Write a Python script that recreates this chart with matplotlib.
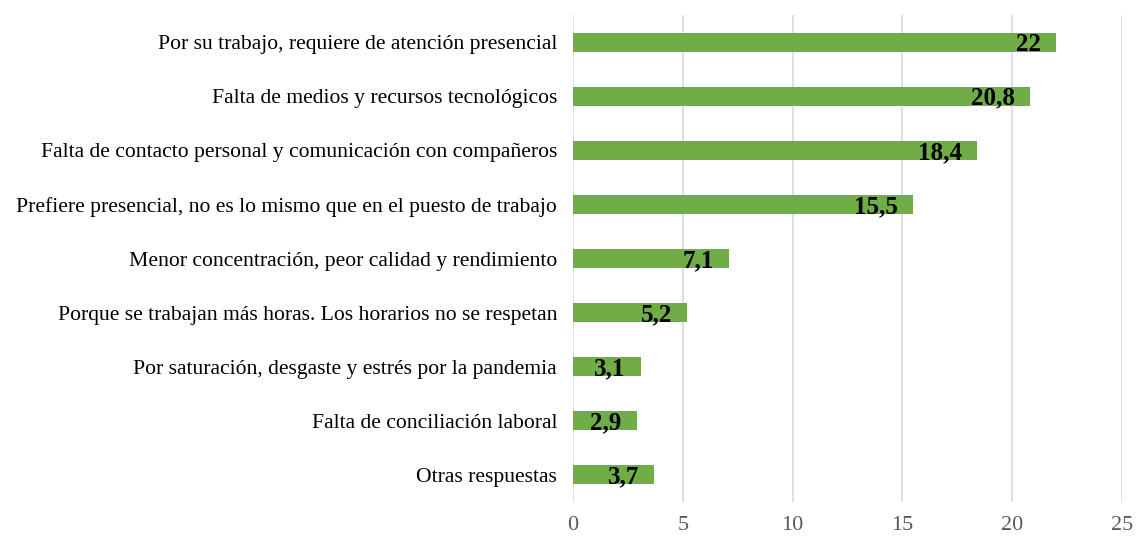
import matplotlib
matplotlib.use("Agg")
import matplotlib.pyplot as plt

plt.rcParams['font.family'] = ['Liberation Serif', 'DejaVu Serif']

categories = [
    "Por su trabajo, requiere de atención presencial",
    "Falta de medios y recursos tecnológicos",
    "Falta de contacto personal y comunicación con compañeros",
    "Prefiere presencial, no es lo mismo que en el puesto de trabajo",
    "Menor concentración, peor calidad y rendimiento",
    "Porque se trabajan más horas. Los horarios no se respetan",
    "Por saturación, desgaste y estrés por la pandemia",
    "Falta de conciliación laboral",
    "Otras respuestas",
]
values = [22, 20.8, 18.4, 15.5, 7.1, 5.2, 3.1, 2.9, 3.7]
value_labels = ["22", "20,8", "18,4", "15,5", "7,1", "5,2", "3,1", "2,9", "3,7"]
xticks = [0, 5, 10, 15, 20, 25]

fig = plt.figure(figsize=(11.36, 5.36), dpi=100)
ax = fig.add_axes([0.5044, 0.0634, 0.4833, 0.9086])

ypos = list(range(len(categories)))
bars = ax.barh(ypos, values, height=0.35, color="#70AD47", zorder=3)

# value labels inside the end of each bar
for b, lab in zip(bars, value_labels):
    ax.annotate(lab, (b.get_width(), b.get_y() + b.get_height() / 2),
                xytext=(-11, -1.5), textcoords="offset points",
                ha="right", va="center", fontsize=18, fontweight="bold",
                color="black", zorder=4)

ax.set_yticks(ypos)
ax.set_yticklabels(categories, fontsize=15.6, color="black")
ax.set_ylim(len(categories) - 0.5, -0.5)
ax.set_xlim(0, 25)
ax.set_xticks(xticks)
ax.set_xticklabels([str(t) for t in xticks], fontsize=16, color="#595959")
ax.tick_params(axis="both", length=0)
ax.tick_params(axis="y", pad=11.5)
ax.tick_params(axis="x", pad=10)
ax.grid(axis="x", color="#D9D9D9", linewidth=1.2, zorder=0)
for s in ax.spines.values():
    s.set_visible(False)

fig.savefig("out.png", dpi=100)
